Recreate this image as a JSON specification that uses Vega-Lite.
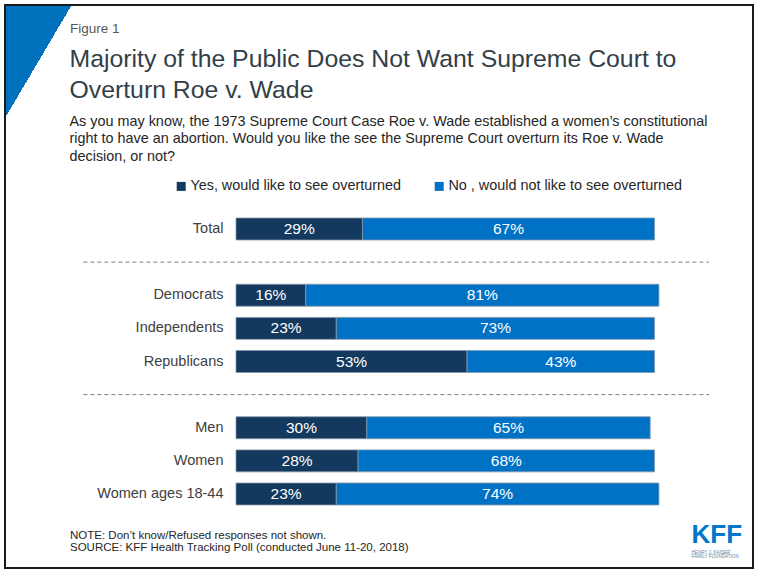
{
  "$schema": "https://vega.github.io/schema/vega-lite/v6.json",
  "width": 748,
  "height": 563,
  "autosize": {"type": "none"},
  "padding": {"left": 5, "top": 5, "right": 7, "bottom": 5},
  "background": "white",
  "config": {
    "font": "Liberation Sans",
    "view": {
      "stroke": "#1a1a1a",
      "strokeWidth": 2,
      "fill": {
        "gradient": "linear",
        "x1": 0, "y1": 0, "x2": 1, "y2": 0.4445,
        "stops": [
          {"offset": 0, "color": "#0071BC"},
          {"offset": 0.0745, "color": "#0071BC"},
          {"offset": 0.0745, "color": "#ffffff"},
          {"offset": 1, "color": "#ffffff"}
        ]
      }
    }
  },
  "title": {
    "text": ["Majority of the Public Does Not Want Supreme Court to", "Overturn Roe v. Wade"],
    "subtitle": [
      "As you may know, the 1973 Supreme Court Case Roe v. Wade established a women’s constitutional",
      "right to have an abortion. Would you like the see the Supreme Court overturn its Roe v. Wade",
      "decision, or not?"
    ],
    "anchor": "start",
    "frame": "group",
    "orient": "top",
    "dx": 64.5,
    "offset": -158,
    "font": "Liberation Sans",
    "fontSize": 24.8,
    "fontWeight": "normal",
    "color": "#333F48",
    "lineHeight": 31,
    "subtitleFont": "Liberation Sans",
    "subtitleFontSize": 14.4,
    "subtitleColor": "#262626",
    "subtitleLineHeight": 17.4,
    "subtitlePadding": 12
  },
  "datasets": {
    "poll": [
      {"group": "Total", "response": "Yes, would like to see overturned", "pct": 29},
      {"group": "Total", "response": "No , would not like to see overturned", "pct": 67},
      {"group": "Democrats", "response": "Yes, would like to see overturned", "pct": 16},
      {"group": "Democrats", "response": "No , would not like to see overturned", "pct": 81},
      {"group": "Independents", "response": "Yes, would like to see overturned", "pct": 23},
      {"group": "Independents", "response": "No , would not like to see overturned", "pct": 73},
      {"group": "Republicans", "response": "Yes, would like to see overturned", "pct": 53},
      {"group": "Republicans", "response": "No , would not like to see overturned", "pct": 43},
      {"group": "Men", "response": "Yes, would like to see overturned", "pct": 30},
      {"group": "Men", "response": "No , would not like to see overturned", "pct": 65},
      {"group": "Women", "response": "Yes, would like to see overturned", "pct": 28},
      {"group": "Women", "response": "No , would not like to see overturned", "pct": 68},
      {"group": "Women ages 18-44", "response": "Yes, would like to see overturned", "pct": 23},
      {"group": "Women ages 18-44", "response": "No , would not like to see overturned", "pct": 74}
    ],
    "separators": [
      {"sep": "gap1"},
      {"sep": "gap2"}
    ]
  },
  "layer": [
    {
      "data": {"name": "poll"},
      "transform": [
        {"stack": "pct", "groupby": ["group"], "sort": [{"field": "response", "order": "descending"}], "as": ["x0", "x1"]}
      ],
      "mark": {"type": "bar", "stroke": "#8797a8", "strokeWidth": 0.8},
      "encoding": {
        "y": {
          "field": "group", "type": "nominal",
          "scale": {"domain": ["Total", "gap1", "Democrats", "Independents", "Republicans", "gap2", "Men", "Women", "Women ages 18-44"], "range": [207.44, 505.56], "paddingInner": 0.336, "paddingOuter": 0.168},
          "axis": {
            "orient": "left", "offset": -231, "domain": false, "ticks": false, "grid": false,
            "labelPadding": 13, "labelFontSize": 14.5, "labelColor": "#404040", "labelLimit": 220,
            "labelExpr": "(datum.label === 'gap1' || datum.label === 'gap2') ? '' : datum.label",
            "title": "Figure 1", "titleAngle": 0, "titleX": -166.5, "titleY": 27.3,
            "titleAlign": "left", "titleBaseline": "alphabetic", "titleFontSize": 13.5,
            "titleFontWeight": "normal", "titleColor": "#595959"
          }
        },
        "x": {
          "field": "x0", "type": "quantitative",
          "scale": {"domain": [0, 100], "range": [231, 667], "nice": false, "zero": false},
          "axis": {
            "orient": "bottom", "domain": false, "ticks": false, "labels": false, "grid": false,
            "title": ["NOTE: Don’t know/Refused responses not shown.", "SOURCE: KFF Health Tracking Poll (conducted June 11-20, 2018)"],
            "titleX": 64.5, "titleY": -29.5, "titleAlign": "left", "titleBaseline": "alphabetic",
            "titleFontSize": 11.5, "titleLineHeight": 12, "titleFontWeight": "normal", "titleColor": "#262626"
          }
        },
        "x2": {"field": "x1"},
        "color": {
          "field": "response", "type": "nominal",
          "scale": {"domain": ["Yes, would like to see overturned", "No , would not like to see overturned"], "range": ["#13395E", "#0072C6"]},
          "legend": {
            "orient": "none", "legendX": 169, "legendY": 174, "direction": "horizontal", "title": null,
            "symbolType": "square", "symbolSize": 81, "symbolStrokeWidth": 0,
            "labelFontSize": 14.4, "labelColor": "#262626", "labelOffset": 2,
            "columnPadding": 30, "labelLimit": 400, "padding": 0
          }
        }
      }
    },
    {
      "data": {"name": "poll"},
      "transform": [
        {"stack": "pct", "groupby": ["group"], "sort": [{"field": "response", "order": "descending"}], "as": ["x0", "x1"]},
        {"calculate": "(datum.x0 + datum.x1) / 2", "as": "mid"},
        {"calculate": "datum.pct + '%'", "as": "label"}
      ],
      "mark": {"type": "text", "color": "white", "fontSize": 15.5, "baseline": "middle", "align": "center"},
      "encoding": {
        "y": {
          "field": "group", "type": "nominal",
          "scale": {"domain": ["Total", "gap1", "Democrats", "Independents", "Republicans", "gap2", "Men", "Women", "Women ages 18-44"], "range": [207.44, 505.56], "paddingInner": 0.336, "paddingOuter": 0.168},
          "axis": {
            "orient": "right", "domain": false, "ticks": false, "labels": false, "grid": false,
            "title": ["HENRY J. KAISER", "FAMILY FOUNDATION"], "titleAngle": 0, "titleX": -62, "titleY": 548,
            "titleAlign": "left", "titleBaseline": "alphabetic", "titleFontSize": 4.6, "titleLineHeight": 4.8,
            "titleFontWeight": "normal", "titleColor": "#6d7f99"
          }
        },
        "x": {
          "field": "mid", "type": "quantitative",
          "scale": {"domain": [0, 100], "range": [231, 667], "nice": false, "zero": false},
          "axis": null
        },
        "text": {"field": "label"}
      }
    },
    {
      "data": {"name": "separators"},
      "mark": {"type": "rule", "strokeDash": [4, 3], "color": "#7f7f7f", "strokeWidth": 1},
      "encoding": {
        "y": {
          "field": "sep", "type": "nominal",
          "scale": {"domain": ["Total", "gap1", "Democrats", "Independents", "Republicans", "gap2", "Men", "Women", "Women ages 18-44"], "range": [207.44, 505.56], "paddingInner": 0.336, "paddingOuter": 0.168},
          "axis": {
            "orient": "right", "domain": false, "ticks": false, "labels": false, "grid": false,
            "title": "KFF", "titleAngle": 0, "titleX": -62, "titleY": 537,
            "titleAlign": "left", "titleBaseline": "alphabetic", "titleFontSize": 26,
            "titleFontWeight": "bold", "titleColor": "#0077C8"
          }
        },
        "x": {
          "datum": -35, "type": "quantitative",
          "scale": {"domain": [0, 100], "range": [231, 667], "nice": false, "zero": false},
          "axis": null
        },
        "x2": {"datum": 108.5}
      }
    }
  ],
  "resolve": {"axis": {"x": "independent", "y": "independent"}}
}
